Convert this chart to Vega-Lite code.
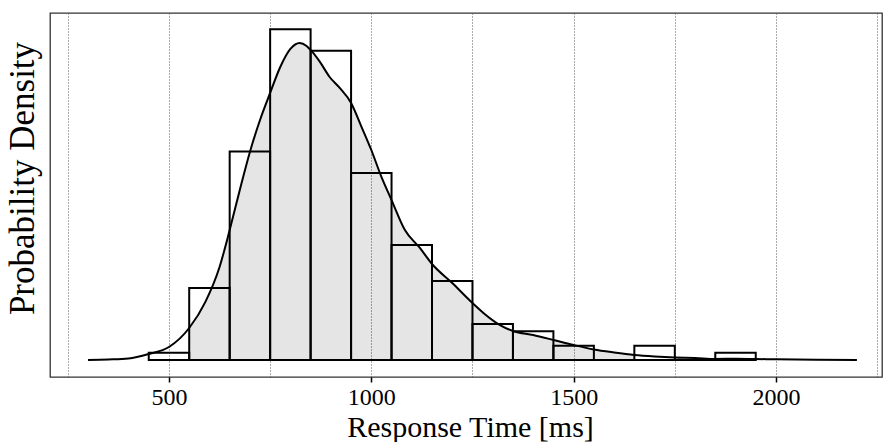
{
  "$schema": "https://vega.github.io/schema/vega-lite/v6.json",
  "width": 832,
  "height": 364,
  "autosize": "none",
  "padding": {"left": 50, "top": 13, "right": 1, "bottom": 65},
  "background": "white",
  "config": {
    "view": {"stroke": "#333333", "strokeWidth": 1.3},
    "font": "Liberation Serif"
  },
  "datasets": {
    "hist": [
      {"bin_start": 450, "bin_end": 550, "density": 0.0000510},
      {"bin_start": 550, "bin_end": 650, "density": 0.000510},
      {"bin_start": 650, "bin_end": 750, "density": 0.001480},
      {"bin_start": 750, "bin_end": 850, "density": 0.002347},
      {"bin_start": 850, "bin_end": 950, "density": 0.002194},
      {"bin_start": 950, "bin_end": 1050, "density": 0.001327},
      {"bin_start": 1050, "bin_end": 1150, "density": 0.000816},
      {"bin_start": 1150, "bin_end": 1250, "density": 0.000561},
      {"bin_start": 1250, "bin_end": 1350, "density": 0.000255},
      {"bin_start": 1350, "bin_end": 1450, "density": 0.000204},
      {"bin_start": 1450, "bin_end": 1550, "density": 0.000102},
      {"bin_start": 1550, "bin_end": 1650, "density": 0},
      {"bin_start": 1650, "bin_end": 1750, "density": 0.000102},
      {"bin_start": 1750, "bin_end": 1850, "density": 0},
      {"bin_start": 1850, "bin_end": 1950, "density": 0.0000510}
    ],
    "kde": [
      {"rt": 300, "density": 0},
      {"rt": 350, "density": 0.0000035},
      {"rt": 400, "density": 0.0000106},
      {"rt": 450, "density": 0.0000426},
      {"rt": 500, "density": 0.0000922},
      {"rt": 550, "density": 0.000227},
      {"rt": 590, "density": 0.000412},
      {"rt": 625, "density": 0.000660},
      {"rt": 650, "density": 0.000922},
      {"rt": 675, "density": 0.001206},
      {"rt": 700, "density": 0.001476},
      {"rt": 725, "density": 0.001703},
      {"rt": 750, "density": 0.001895},
      {"rt": 775, "density": 0.002079},
      {"rt": 800, "density": 0.002207},
      {"rt": 823, "density": 0.002249},
      {"rt": 840, "density": 0.002228},
      {"rt": 850, "density": 0.002200},
      {"rt": 873, "density": 0.002115},
      {"rt": 897, "density": 0.002008},
      {"rt": 922, "density": 0.001930},
      {"rt": 950, "density": 0.001824},
      {"rt": 976, "density": 0.001653},
      {"rt": 1000, "density": 0.001490},
      {"rt": 1025, "density": 0.001299},
      {"rt": 1050, "density": 0.001135},
      {"rt": 1083, "density": 0.000922},
      {"rt": 1120, "density": 0.000795},
      {"rt": 1150, "density": 0.000681},
      {"rt": 1200, "density": 0.000546},
      {"rt": 1250, "density": 0.000404},
      {"rt": 1277, "density": 0.000334},
      {"rt": 1318, "density": 0.000248},
      {"rt": 1350, "density": 0.000206},
      {"rt": 1400, "density": 0.000177},
      {"rt": 1450, "density": 0.000142},
      {"rt": 1500, "density": 0.000106},
      {"rt": 1550, "density": 0.0000745},
      {"rt": 1600, "density": 0.0000532},
      {"rt": 1650, "density": 0.0000355},
      {"rt": 1700, "density": 0.0000248},
      {"rt": 1750, "density": 0.0000177},
      {"rt": 1800, "density": 0.0000142},
      {"rt": 1850, "density": 0.0000071},
      {"rt": 1900, "density": 0.0000092},
      {"rt": 1950, "density": 0.0000071},
      {"rt": 2000, "density": 0.0000050},
      {"rt": 2100, "density": 0.0000021},
      {"rt": 2200, "density": 0}
    ]
  },
  "layer": [
    {
      "data": {"name": "kde"},
      "transform": [{"filter": "datum.rt >= 550 && datum.rt <= 1650"}],
      "mark": {"type": "area", "interpolate": "monotone", "fill": "black", "fillOpacity": 0.102},
      "encoding": {
        "x": {
          "field": "rt", "type": "quantitative",
          "scale": {"domain": [206, 2262], "nice": false, "zero": false},
          "axis": {
            "values": [250, 500, 750, 1000, 1250, 1500, 1750, 2000, 2250],
            "format": "d",
            "labelExpr": "datum.value % 500 === 0 ? datum.label : ''",
            "grid": true,
            "gridColor": "#555555",
            "gridDash": [1, 2],
            "gridWidth": 1,
            "domain": false,
            "ticks": true,
            "tickSize": 5,
            "tickWidth": 1.5,
            "tickColor": "black",
            "tickOpacity": {"condition": {"test": "datum.value % 500 === 0", "value": 1}, "value": 0},
            "labelFont": "Liberation Serif",
            "labelFontSize": 24,
            "labelColor": "black",
            "labelPadding": 3,
            "labelFlush": false,
            "labelOverlap": false,
            "title": "Response Time [ms]",
            "titleFont": "Liberation Serif",
            "titleFontSize": 30,
            "titleFontWeight": "normal",
            "titleColor": "black",
            "titleBaseline": "alphabetic",
            "titleAlign": "center",
            "titleX": 420,
            "titleY": 59
          }
        },
        "y": {
          "field": "density", "type": "quantitative",
          "scale": {"domain": [-0.0001206, 0.002462], "nice": false, "zero": false},
          "axis": {
            "labels": false,
            "ticks": false,
            "domain": false,
            "grid": false,
            "title": "Probability Density",
            "titleFont": "Liberation Serif",
            "titleFontSize": 35,
            "titleFontWeight": "normal",
            "titleColor": "black",
            "titleBaseline": "alphabetic",
            "titleAlign": "center",
            "titleAngle": -90,
            "titleX": -17,
            "titleY": 165
          }
        }
      }
    },
    {
      "data": {"name": "hist"},
      "mark": {"type": "rect", "fill": "transparent", "stroke": "black", "strokeWidth": 2},
      "encoding": {
        "x": {"field": "bin_start", "type": "quantitative"},
        "x2": {"field": "bin_end"},
        "y": {"field": "density", "type": "quantitative"},
        "y2": {"datum": 0}
      }
    },
    {
      "data": {"name": "kde"},
      "mark": {"type": "line", "interpolate": "monotone", "color": "black", "strokeWidth": 2},
      "encoding": {
        "x": {"field": "rt", "type": "quantitative"},
        "y": {"field": "density", "type": "quantitative"}
      }
    }
  ]
}
